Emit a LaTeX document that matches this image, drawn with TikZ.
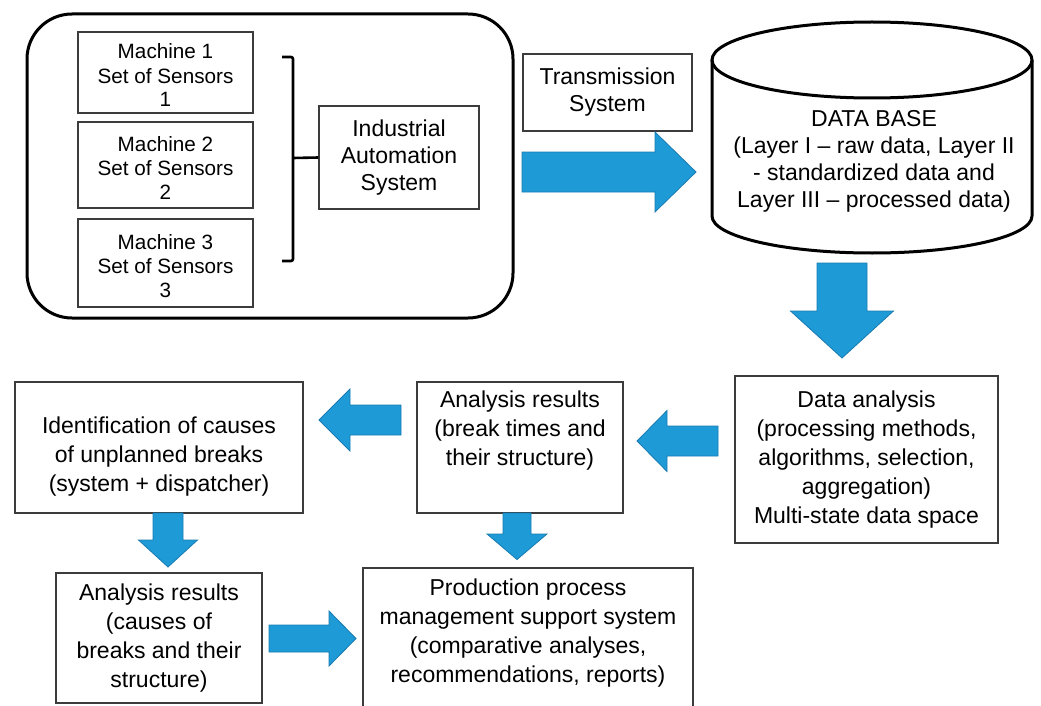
\documentclass[tikz,border=0pt]{standalone}
\usepackage{fontspec}
\setmainfont{Liberation Sans}
\usetikzlibrary{calc}

\definecolor{arrowblue}{RGB}{30,155,215}
\definecolor{arrowedge}{RGB}{24,122,176}
\definecolor{boxgray}{RGB}{60,60,60}

\tikzset{
  box/.style={draw=boxgray, line width=1.2pt, fill=white, align=center, inner sep=0pt, font=\fontsize{23}{29}\selectfont},
  machine/.style={box, minimum width=175pt, font=\fontsize{20.7}{24}\selectfont},
  plant/.style={draw=black, line width=3pt, rounded corners=45pt},
  blockarrow/.style={draw=arrowedge, line width=0.8pt, fill=arrowblue, line join=miter},
  bracket/.style={line width=2.6pt, rounded corners=2pt},
  dbline/.style={draw=black, line width=3pt}
}

% from, to, shaft half width, head half width, head length
\newcommand{\bigarrow}[5]{%
  \coordinate (headbase) at ($(#2)!#5!(#1)$);
  \draw[blockarrow] ($(#1)!#3!90:(#2)$) -- ($(headbase)!#3!-90:(#1)$)
    -- ($(headbase)!#4!-90:(#1)$) -- (#2) -- ($(headbase)!#4!90:(#1)$)
    -- ($(headbase)!#3!90:(#1)$) -- ($(#1)!#3!-90:(#2)$) -- cycle;}

\begin{document}
\begin{tikzpicture}[x=1pt,y=-1pt]
	\useasboundingbox (0,0) rectangle (1041,706);
	\node[plant, minimum width=486pt, minimum height=304pt] (plant) at (270,166) {};
	\node[machine, minimum height=81pt] (m1) at (165.5,72.5) {\rule{0pt}{21pt}Machine 1\\Set of Sensors\\1};
	\node[machine, minimum height=86pt] (m2) at (165.5,165) {\rule{0pt}{21pt}Machine 2\\Set of Sensors\\2};
	\node[machine, minimum height=88pt] (m3) at (165.5,263) {\rule{0pt}{21pt}Machine 3\\Set of Sensors\\3};
	\node[box, minimum width=160pt, minimum height=103pt, font=\fontsize{23}{27}\selectfont] (ias) at (399,157.5) {Industrial\\Automation\\System};
	\draw[bracket] (282,57) -- (293,57) -- (293,261) -- (282,261);
	\draw[bracket] (293,158) -- (ias.west);

	\node[box, minimum width=169pt, minimum height=77pt, font=\fontsize{23}{27}\selectfont] (trans) at (607.5,92.5) {Transmission\\System};
	\coordinate (tsA) at (522,172);
	\coordinate (tsB) at (696,172);
	\bigarrow{tsA}{tsB}{20pt}{40pt}{41pt}

	\draw[dbline] (712,60) -- (712,216) arc[start angle=180, end angle=360, x radius=160pt, y radius=37pt] -- (1032,60);
	\draw[dbline] (872,60) ellipse [x radius=160pt, y radius=38pt];
	\node[align=center, font=\fontsize{23}{27}\selectfont] (db) at (874,161) {DATA BASE\\(Layer I – raw data, Layer II\\- standardized data and\\Layer III – processed data)};

	\coordinate (dbA) at (842,263);
	\coordinate (dbB) at (842,358);
	\bigarrow{dbA}{dbB}{25pt}{51.5pt}{47pt}

	\node[box, minimum width=263pt, minimum height=167pt] (da) at (866.5,459.5) {Data analysis\\(processing methods,\\algorithms, selection,\\aggregation)\\Multi-state data space};
	\node[box, minimum width=206pt, minimum height=131pt] (ar1) at (520,447.5) {Analysis results\\(break times and\\their structure)\\\strut};
	\node[box, minimum width=288pt, minimum height=131pt] (ident) at (159,447.5) {\rule{0pt}{35pt}Identification of causes\\of unplanned breaks\\(system + dispatcher)};
	\node[box, minimum width=206pt, minimum height=130pt] (ar2) at (159,638) {Analysis results\\(causes of\\breaks and their\\structure)};
	\node[box, minimum width=330pt, minimum height=164pt] (pms) at (528,650) {Production process\\management support system\\(comparative analyses,\\recommendations, reports)\\\strut};

	\coordinate (daA) at (718,441);
	\coordinate (daB) at (637,441);
	\bigarrow{daA}{daB}{15pt}{30.5pt}{30pt}
	\coordinate (arA) at (401,420);
	\coordinate (arB) at (319,420);
	\bigarrow{arA}{arB}{15pt}{31pt}{31pt}
	\coordinate (idA) at (168,513);
	\coordinate (idB) at (168,567);
	\bigarrow{idA}{idB}{15pt}{29.5pt}{27pt}
	\coordinate (caA) at (269,638.5);
	\coordinate (caB) at (356,638.5);
	\bigarrow{caA}{caB}{13.5pt}{27.5pt}{27pt}
	\coordinate (brA) at (517,513);
	\coordinate (brB) at (517,559.5);
	\bigarrow{brA}{brB}{14pt}{30pt}{25.5pt}
\end{tikzpicture}
\end{document}
